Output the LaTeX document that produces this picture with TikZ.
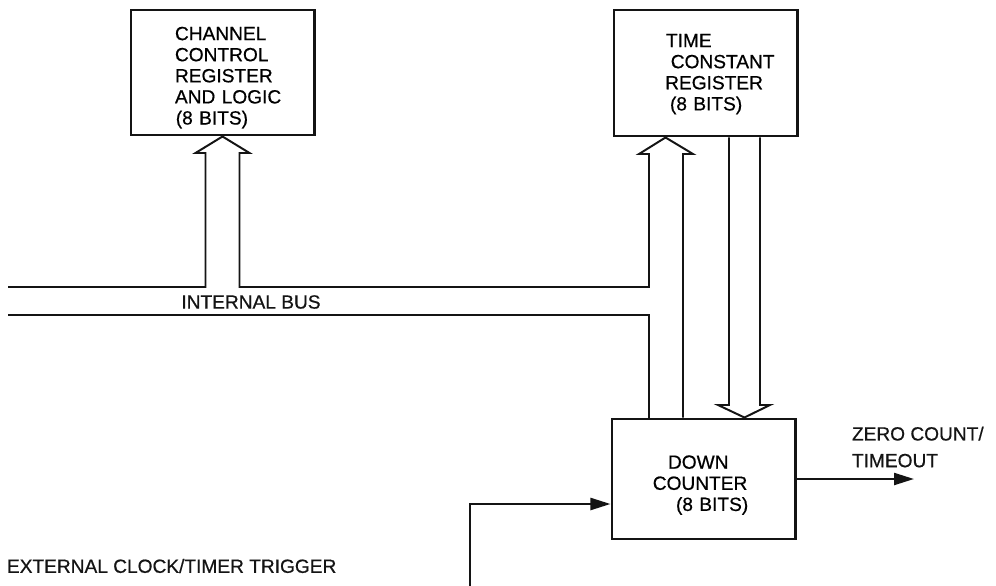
\documentclass[tikz,border=0pt]{standalone}
\usepackage{fontspec}
\setmainfont[FakeBold=0.6]{Liberation Sans}
\usetikzlibrary{arrows.meta,calc}
\definecolor{ink}{RGB}{20,20,20}
\newcommand{\lblsize}{\fontsize{13.6}{15}\selectfont}
\newcommand{\padtop}[1]{\rule{0pt}{#1}}
\tikzset{
  >={Triangle[length=5mm,width=3mm]},
  box/.style={draw=ink,line width=2.1pt,minimum width=4.575cm,text width=4.575cm,
    inner xsep=0pt,minimum height=#1,align=left,font=\lblsize},
  box/.default=3.125cm,
  bus/.style={draw=ink,line width=1.4pt},
  flow/.style={->,line width=1.6pt,draw=ink},
  tag/.style={font=\lblsize,text=ink,align=left},
}

\begin{document}
\begin{tikzpicture}[x=0.025cm,y=-0.025cm]
  \useasboundingbox (0,0) rectangle (996,586);
  % registers and counter
  \node[box] (ccr) at (222.5,72.5) {\padtop{16.8pt}\hspace*{1.1cm}CHANNEL\\\hspace*{1.1cm}CONTROL\\
    \hspace*{1.1cm}REGISTER\\\hspace*{1.1cm}AND LOGIC\\\hspace*{1.12cm}(8 BITS)};
  \node[box=3.15cm] (tcr) at (705.5,73) {\padtop{11pt}\hspace*{1.3cm}TIME\\\hspace*{1.42cm}CONSTANT\\
    \hspace*{1.28cm}REGISTER\\\hspace*{1.4cm}(8 BITS)};
  \node[box=3cm] (dc) at (703.5,479) {\padtop{18.2pt}\hspace*{1.4cm}DOWN\\\hspace*{1.02cm}COUNTER\\
    \hspace*{1.6cm}(8 BITS)};
  \coordinate (tcrIn) at ($(tcr.south west)!0.285!(tcr.south east)$);
  \coordinate (dcIn) at ($(dc.north west)!0.72!(dc.north east)$);
  % internal bus
  \draw[bus] (8,287) -- (205.5,287) -- (205.5,153) -- (195.5,153) -- (ccr.south)
    -- (249.5,153) -- (239.5,153) -- (239.5,287) -- (649,287) -- (649,154)
    -- (639,154) -- (tcrIn) -- (693,154) -- (683,154) -- (683,0 |- dc.north);
  \draw[bus] (8,315) -- (649,315) -- (649,0 |- dc.north);
  \draw[bus] (729,0 |- tcr.south) -- (729,405) -- (718,405) -- (dcIn)
    -- (770,405) -- (760,405) -- (760,0 |- tcr.south);
  \node[tag] (ibus) at (251,302) {INTERNAL BUS};
  % clock in, zero count out
  \coordinate (clk) at (470,586);
  \coordinate (zcEnd) at (914,479);
  \draw[flow] (clk) |- ($(dc.west)+(0,25)$);
  \draw[flow] (dc.east) -- (zcEnd);
  \node[tag,anchor=west] (trig) at (2,566) {EXTERNAL CLOCK/TIMER TRIGGER};
  \node[tag,anchor=west,font=\fontsize{13.6}{19}\selectfont] (zc) at (847,447) {ZERO COUNT/\\TIMEOUT};
\end{tikzpicture}
\end{document}
